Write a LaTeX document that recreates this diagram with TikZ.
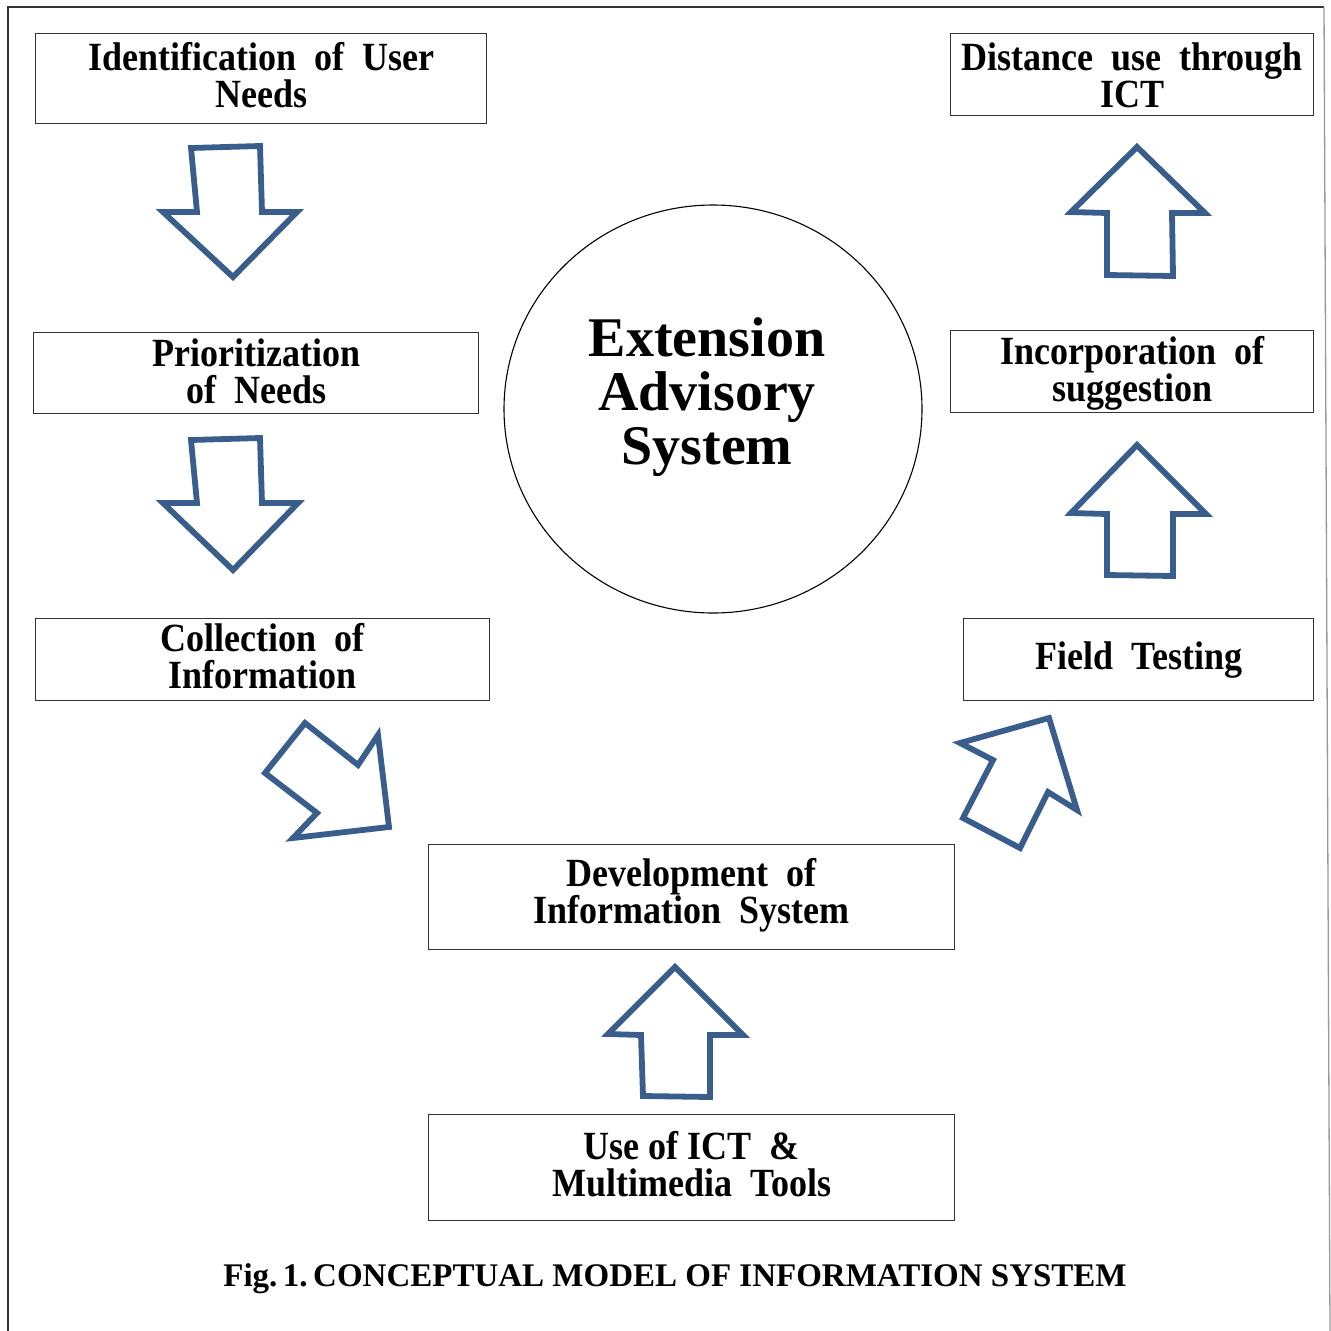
\documentclass[tikz,border=0pt]{standalone}
\usepackage{fontspec}
\setmainfont{Liberation Serif}
\newfontfamily\boxfont{Liberation Serif}[FakeStretch=0.9]
\usetikzlibrary{shapes.geometric}
\definecolor{arrowblue}{HTML}{3A5E8C}
\begin{document}
\begin{tikzpicture}[x=1pt,y=-1pt,
  box/.style={draw=black!80, line width=1.3pt, inner sep=0pt, anchor=north west},
  boxtext/.style={inner sep=0pt, align=center, font=\boxfont\fontsize{40}{37}\selectfont\bfseries},
  blockarrow/.style={draw=arrowblue, line width=5.8pt, line join=miter, fill=white},
  frame/.style={line width=1.3pt, draw=black!80}]
\useasboundingbox (0,0) rectangle (1331,1331);
% outer frame
\draw[frame] (8,1331) -- (8,7) -- (1324,7);
\draw[line width=1.3pt, draw=black!40] (1324,7) -- (1330,1331);

% boxes
\node[box, minimum width=451pt, minimum height=90pt] (ident) at (35,33) {};
\node[boxtext, yshift=4pt] (identT) at (ident.center) {Identification\ \ of\ \ User\\Needs};
\node[box, minimum width=445pt, minimum height=81pt] (prior) at (33,332) {};
\node[boxtext, yshift=2pt] (priorT) at (prior.center) {Prioritization\\of\ \ Needs};
\node[box, minimum width=454pt, minimum height=82pt] (collect) at (35,618) {};
\node[boxtext, yshift=4pt] (collectT) at (collect.center) {Collection\ \ of\\Information};
\node[box, minimum width=526pt, minimum height=105pt] (devel) at (428,844) {};
\node[boxtext, yshift=2pt] (develT) at (devel.center) {Development\ \ of\\Information\ \ System};
\node[box, minimum width=526pt, minimum height=106pt] (ict) at (428,1114) {};
\node[boxtext, yshift=4pt] (ictT) at (ict.center) {Use of ICT\ \ \&\\Multimedia\ \ Tools};
\node[box, minimum width=350pt, minimum height=82pt] (field) at (963,618) {};
\node[boxtext] (fieldT) at (field.center) {Field\ \ Testing};
\node[box, minimum width=363pt, minimum height=82pt] (incorp) at (950,330) {};
\node[boxtext, yshift=-2pt] (incorpT) at (incorp.center) {Incorporation\ \ of\\suggestion};
\node[box, minimum width=363pt, minimum height=82pt] (dist) at (950,33) {};
\node[boxtext, yshift=-1pt] (distT) at (dist.center) {Distance\ \ use\ \ through\\ICT};

% central circle
\node[draw=black, line width=1.1pt, ellipse, minimum width=418pt, minimum height=408pt, inner sep=0pt] (circ) at (713,409) {};
\node[align=center, font=\fontsize{56}{54}\selectfont\bfseries] (eas) at (707,397) {Extension\\Advisory\\System};

% block arrows
\draw[blockarrow] (191,148) -- (260,146) -- (262,212) -- (297,212) -- (233,277) -- (163,212) -- (197,212) -- cycle;
\draw[blockarrow] (191,440) -- (260,438) -- (262,503) -- (298,503) -- (233,570) -- (163,503) -- (197,503) -- cycle;
\draw[blockarrow] (305,723) -- (358,765) -- (378,735) -- (389,827) -- (293,838) -- (317,813) -- (265,773) -- cycle;
\draw[blockarrow] (675,967) -- (743,1035) -- (710,1035) -- (710,1097) -- (643,1096) -- (641,1035) -- (608,1034) -- cycle;
\draw[blockarrow] (960,743) -- (1049,718) -- (1077,810) -- (1048,792) -- (1020,848) -- (963,818) -- (993,760) -- cycle;
\draw[blockarrow] (1137,445) -- (1206,514) -- (1173,514) -- (1173,576) -- (1107,575) -- (1107,514) -- (1071,513) -- cycle;
\draw[blockarrow] (1137,147) -- (1205,213) -- (1172,213) -- (1173,276) -- (1107,275) -- (1107,213) -- (1071,212) -- cycle;

% caption
\node[font=\fontsize{33}{33}\selectfont\bfseries] (cap) at (675,1279) {Fig.\,1.\,CONCEPTUAL MODEL OF INFORMATION SYSTEM};
\end{tikzpicture}
\end{document}
